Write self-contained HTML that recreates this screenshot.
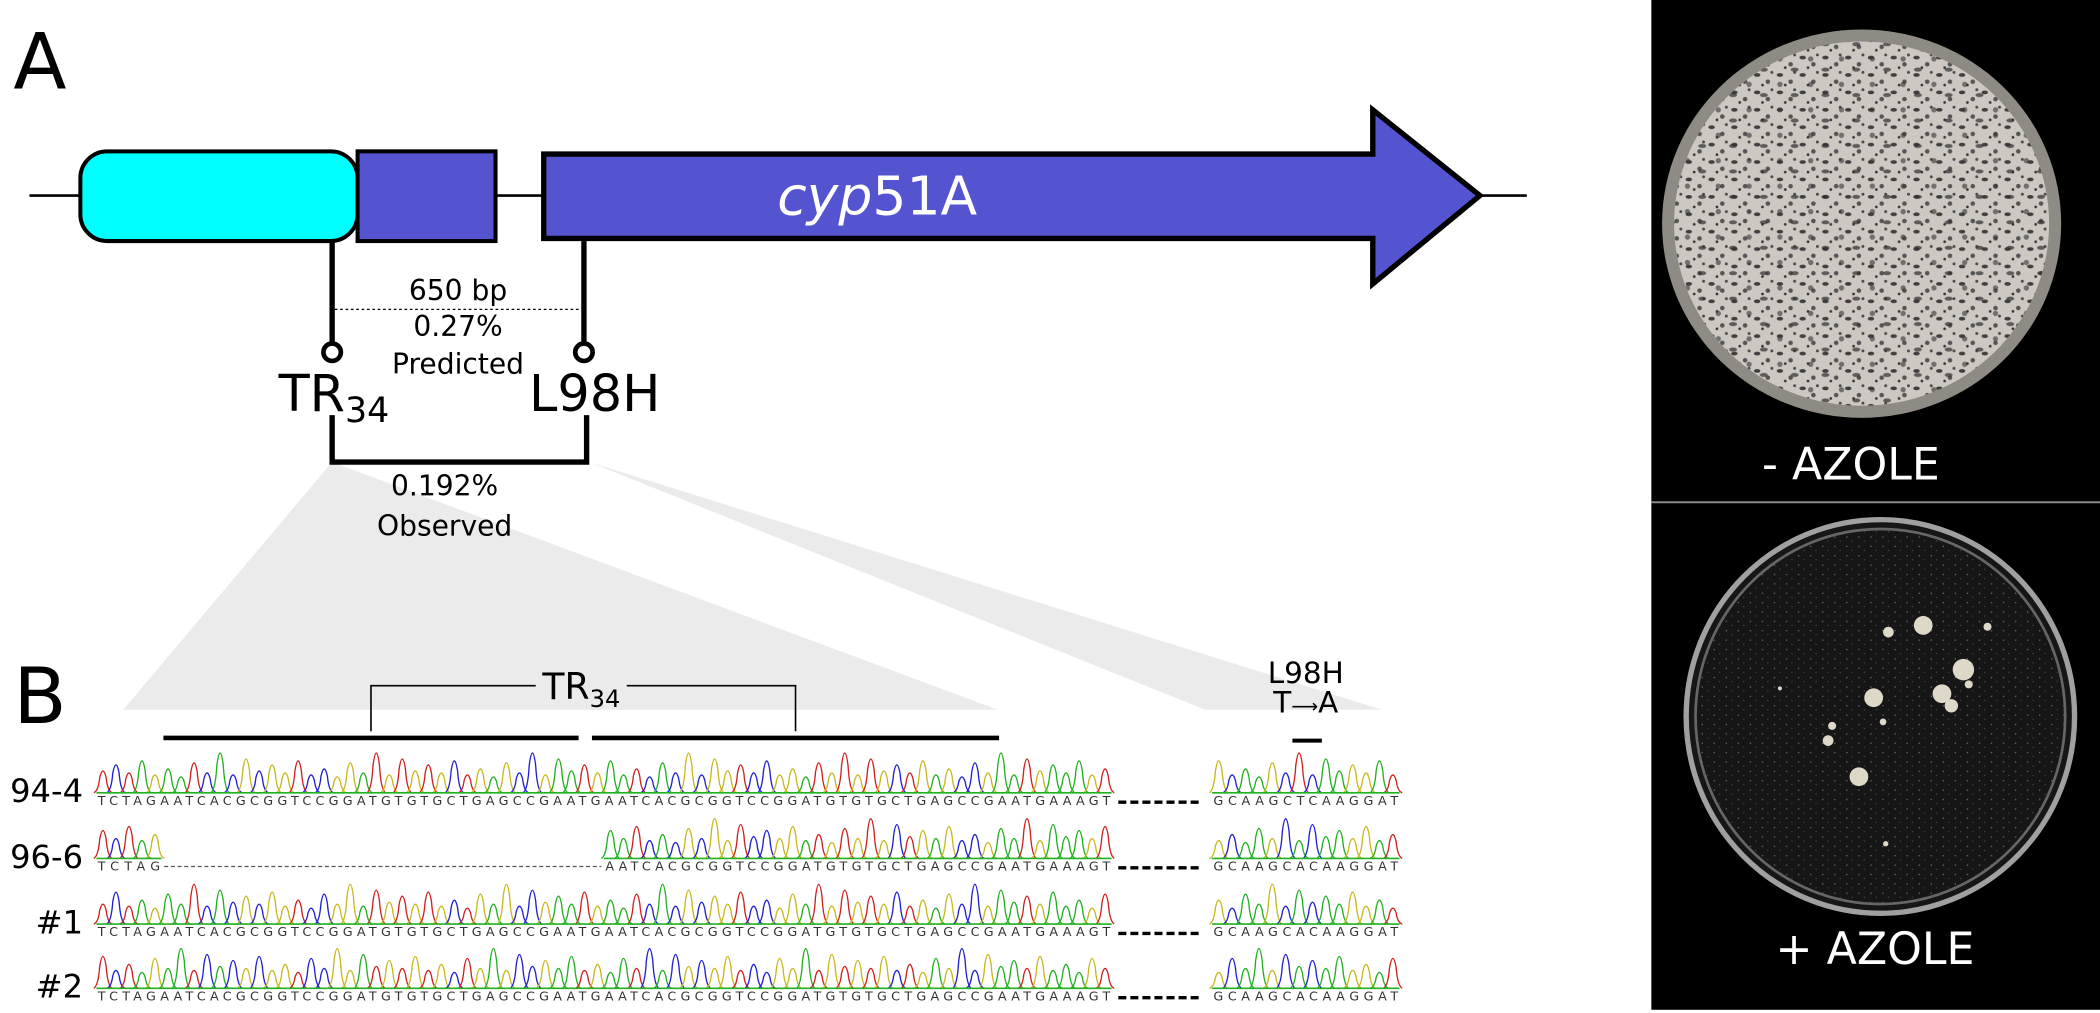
<!DOCTYPE html>
<html><head><meta charset="utf-8"><style>
html,body{margin:0;padding:0;background:#fff}
svg{display:block;font-family:"DejaVu Sans","Liberation Sans",sans-serif}
</style></head><body>
<svg width="2100" height="1013" viewBox="0 0 1568 756.4" preserveAspectRatio="none">
<defs>
<pattern id="speck" width="17" height="13" patternUnits="userSpaceOnUse">
<rect width="17" height="13" fill="#cdc9c2"/>
<ellipse cx="3" cy="4" rx="2.4" ry="1.4" fill="#3f3f3f"/><circle cx="11" cy="9" r="1.7" fill="#555"/><circle cx="7" cy="11.5" r="1" fill="#333"/><circle cx="14" cy="2" r="1.1" fill="#4a4a4a"/>
</pattern>
<pattern id="speck2" width="23" height="19" patternUnits="userSpaceOnUse">
<ellipse cx="6" cy="14" rx="3" ry="1.5" fill="#2e2e2e" opacity="0.7"/><circle cx="18" cy="6" r="2" fill="#333" opacity="0.6"/>
</pattern>
<pattern id="dots" width="9" height="7" patternUnits="userSpaceOnUse">
<circle cx="2" cy="2" r="0.5" fill="#777"/><circle cx="6" cy="5" r="0.4" fill="#666"/>
</pattern>
</defs>
<!-- Panel A -->
<text x="10" y="66" font-size="58">A</text>
<line x1="22" y1="146" x2="1140" y2="146" stroke="#000" stroke-width="2"/>
<rect x="60" y="113" width="207" height="67" rx="20" fill="#00ffff" stroke="#000" stroke-width="3"/>
<rect x="267" y="113" width="103" height="67" fill="#5454d0" stroke="#000" stroke-width="3"/>
<path d="M406 115 H1025 V82 L1105 146 L1025 212 V178 H406 Z" fill="#5454d0" stroke="#000" stroke-width="4"/>
<text x="655" y="160" font-size="40" fill="#fff" text-anchor="middle"><tspan font-style="italic">cyp</tspan>51A</text>
<line x1="248" y1="180" x2="248" y2="257" stroke="#000" stroke-width="4"/>
<line x1="436" y1="180" x2="436" y2="257" stroke="#000" stroke-width="4"/>
<circle cx="248" cy="263" r="6.5" fill="#fff" stroke="#000" stroke-width="3.5"/>
<circle cx="436" cy="263" r="6.5" fill="#fff" stroke="#000" stroke-width="3.5"/>
<line x1="250" y1="231" x2="434" y2="231" stroke="#000" stroke-width="1" stroke-dasharray="2,2"/>
<g font-size="21" text-anchor="middle">
<text x="342" y="224">650 bp</text><text x="342" y="251">0.27%</text><text x="342" y="279">Predicted</text></g>
<text x="208" y="307" font-size="38">TR<tspan font-size="26" dy="8">34</tspan></text>
<text x="395" y="307" font-size="38">L98H</text>
<polygon points="248,345 92,530 745,530" fill="#ebebeb"/>
<polygon points="440,345 900,530 1032,530" fill="#ebebeb"/>
<polyline points="248,310 248,345 438,345 438,310" fill="none" stroke="#000" stroke-width="4"/>
<g font-size="21" text-anchor="middle">
<text x="332" y="370">0.192%</text><text x="332" y="400">Observed</text></g>
<!-- Panel B -->
<text x="10" y="540" font-size="58">B</text>
<polyline points="277,546 277,512 400,512" fill="none" stroke="#000" stroke-width="1.2"/>
<polyline points="468,512 594,512 594,546" fill="none" stroke="#000" stroke-width="1.2"/>
<text x="405" y="522" font-size="27">TR<tspan font-size="18" dy="6">34</tspan></text>
<line x1="122" y1="551" x2="432" y2="551" stroke="#000" stroke-width="3.5"/>
<line x1="442" y1="551" x2="746" y2="551" stroke="#000" stroke-width="3.5"/>
<text x="975" y="510" font-size="22" text-anchor="middle">L98H</text>
<text x="975" y="532" font-size="22" text-anchor="middle">T<tspan font-size="14">⟶</tspan>A</text>
<line x1="965" y1="553" x2="987" y2="553" stroke="#000" stroke-width="3"/>
<g id="traces"></g>
<!-- Panels C/D -->
<rect x="1233" y="0" width="335" height="754" fill="#000"/>
<line x1="1233" y1="375" x2="1568" y2="375" stroke="#888" stroke-width="1.5"/>
<ellipse cx="1390" cy="167" rx="149" ry="145" fill="#8e8a84"/>
<ellipse cx="1390" cy="167" rx="140" ry="136" fill="url(#speck)"/>
<ellipse cx="1390" cy="167" rx="140" ry="136" fill="url(#speck2)"/>
<text x="1382" y="358" font-size="33" fill="#fff" text-anchor="middle">- AZOLE</text>
<ellipse cx="1404" cy="535" rx="145" ry="147" fill="#161616" stroke="#a0a0a0" stroke-width="4"/>
<ellipse cx="1404" cy="535" rx="138" ry="140" fill="url(#dots)" stroke="#666" stroke-width="2"/>
<g fill="#ddd8c8">
<circle cx="1436" cy="467" r="7"/><circle cx="1410" cy="472" r="4"/><circle cx="1484" cy="468" r="3"/><circle cx="1466" cy="500" r="8"/><circle cx="1470" cy="511" r="3"/><circle cx="1450" cy="518" r="7"/><circle cx="1457" cy="527" r="5"/><circle cx="1399" cy="521" r="7"/><circle cx="1406" cy="539" r="2.5"/><circle cx="1368" cy="542" r="3"/><circle cx="1365" cy="553" r="4"/><circle cx="1388" cy="580" r="7"/><circle cx="1408" cy="630" r="2"/><circle cx="1329" cy="514" r="1.5"/>
</g>
<text x="1400" y="720" font-size="33" fill="#fff" text-anchor="middle">+ AZOLE</text>
<text x="1584" y="45" font-size="52">C</text>
<text x="1584" y="428" font-size="52">D</text>
</svg>
<script>
const rowLabels=["94-4","96-6","#1","#2"];
const seqMain=["TCTAGAATCACGCGGTCCGGATGTGTGCTGAGCCGAATGAATCACGCGGTCCGGATGTGTGCTGAGCCGAATGAAAGT","TCTAG","TCTAGAATCACGCGGTCCGGATGTGTGCTGAGCCGAATGAATCACGCGGTCCGGATGTGTGCTGAGCCGAATGAAAGT","TCTAGAATCACGCGGTCCGGATGTGTGCTGAGCCGAATGAATCACGCGGTCCGGATGTGTGCTGAGCCGAATGAAAGT"];
const seqTail=["GCAAGCTCAAGGAT","GCAAGCACAAGGAT","GCAAGCACAAGGAT","GCAAGCACAAGGAT"];
const peakHeights=[0.55,0.7,0.5,0.8,0.45,0.6,0.4,0.75,0.5,1.0,0.45,0.85];
const rowY=[592,641,690,738];
const colors={A:"#22b022",C:"#2020d0",G:"#c8b820",T:"#d02020"};
const NS="http://www.w3.org/2000/svg";
const g=document.getElementById('traces');
function trace(seq,x0,step,base,off){
  for(let i=0;i<seq.length;i++){
    const b=seq[i],h=peakHeights[(i+off)%peakHeights.length]*29;
    const cx=x0+step*(i+0.5);
    const p=document.createElementNS(NS,'path');
    p.setAttribute('d',`M${cx-step*0.7} ${base} Q${cx-step*0.35} ${base-h*0.1} ${cx-step*0.25} ${base-h*0.7} Q${cx} ${base-h*1.35} ${cx+step*0.25} ${base-h*0.7} Q${cx+step*0.35} ${base-h*0.1} ${cx+step*0.7} ${base}`);
    p.setAttribute('fill','none');p.setAttribute('stroke',colors[b]);p.setAttribute('stroke-width','1');
    
    
    g.appendChild(p);
  }
  const ln=document.createElementNS(NS,'line');
  ln.setAttribute('x1',x0);ln.setAttribute('x2',x0+step*seq.length);ln.setAttribute('y1',base);ln.setAttribute('y2',base);
  ln.setAttribute('stroke','#22b022');ln.setAttribute('stroke-width','1.2');
  g.appendChild(ln);
  const t=document.createElementNS(NS,'text');
  t.setAttribute('x',x0+1);t.setAttribute('y',base+9);t.setAttribute('font-size','9.5');t.setAttribute('fill','#333');
  t.setAttribute('textLength',step*seq.length-2);t.setAttribute('lengthAdjust','spacing');
  
  
  t.textContent=seq;g.appendChild(t);
}
rowLabels.forEach((lab,r)=>{
  const y=rowY[r];
  const t=document.createElementNS(NS,'text');
  t.setAttribute('x','62');t.setAttribute('y',y+7);t.setAttribute('font-size','24');t.setAttribute('text-anchor','end');
  
  
  t.textContent=lab;g.appendChild(t);
  const step=758/78;
  trace(seqMain[r],72,step,y,r);
  if(seqMain[r].length<20){
    const gap=document.createElementNS(NS,'line');
    gap.setAttribute('x1',72+step*5+2);gap.setAttribute('x2',449);gap.setAttribute('y1',y+6);gap.setAttribute('y2',y+6);
    gap.setAttribute('stroke','#555');gap.setAttribute('stroke-width','1');gap.setAttribute('stroke-dasharray','3,2');
    g.appendChild(gap);
    trace(seqMain[0].slice(39),72+step*39,step,y,r);
  }
  const d=document.createElementNS(NS,'line');
  d.setAttribute('x1','835');d.setAttribute('x2','895');d.setAttribute('y1',y+7);d.setAttribute('y2',y+7);
  d.setAttribute('stroke','#000');d.setAttribute('stroke-width','2.5');d.setAttribute('stroke-dasharray','6,3');
  
  
  g.appendChild(d);
  trace(seqTail[r],905,140/14,y,r+3);
});
</script>
</body></html>
